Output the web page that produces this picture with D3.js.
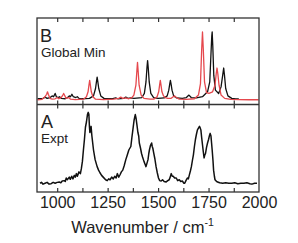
<!DOCTYPE html>
<html>
<head>
<meta charset="utf-8">
<script src="https://cdn.jsdelivr.net/npm/d3@7"></script>
<style>
  html, body { margin: 0; padding: 0; background: #fff; }
  text { font-family: "Liberation Sans", Arial, sans-serif; fill: #222; }
</style>
</head>
<body>
<div id="chart"></div>
<script>
// x tick labels / tick positions
const tickLabels = [1000, 1250, 1500, 1750, 2000];
const tickMarks = [1000, 1125, 1250, 1375, 1500, 1625, 1750, 1875];

// panel B, calculated spectrum (global minimum), red series [wavenumber, intensity]
const calcRed = [
  [903, 0.3], [925, 0.8], [940, 4], [948, 7], [952, 10], [956, 7], [964, 2], [975, 1], [990, 1.5],
  [1000, 3], [1008, 1.5], [1020, 3], [1028, 6], [1032, 8], [1036, 6], [1044, 2], [1058, 3], [1066, 1],
  [1090, 0.5], [1130, 1], [1145, 4], [1153, 10], [1158, 19], [1161, 24], [1164, 19], [1169, 10], [1177, 4],
  [1190, 1], [1230, 0.4], [1280, 1], [1305, 2], [1315, 3.5], [1325, 2], [1340, 2.5], [1355, 1.5],
  [1370, 3], [1380, 6], [1390, 18], [1395, 36], [1398, 46], [1401, 36], [1406, 18], [1416, 6], [1430, 2],
  [1460, 1], [1480, 1.2], [1495, 4], [1503, 10], [1508, 19], [1511, 24], [1514, 19], [1519, 10],
  [1527, 5], [1535, 3], [1548, 2], [1565, 2], [1575, 4], [1582, 5], [1590, 3], [1605, 1], [1640, 0.8],
  [1680, 1.5], [1700, 6], [1710, 20], [1716, 62], [1720, 83], [1724, 62], [1730, 22], [1740, 9],
  [1752, 8], [1770, 10], [1782, 18], [1788, 32], [1792, 39], [1796, 32], [1802, 18], [1812, 6],
  [1830, 2], [1860, 0.8], [1900, 0.4], [1950, 0.3], [1998, 0.3]
];

// panel B, calculated spectrum, black series [wavenumber, intensity]
const calcBlack = [
  [903, 1.5], [930, 2], [940, 3.5], [950, 2], [965, 3], [975, 5], [982, 4], [990, 8], [996, 4],
  [1005, 3], [1012, 4], [1020, 2], [1040, 1.5], [1052, 3], [1060, 5], [1066, 4], [1073, 7], [1080, 4],
  [1092, 3], [1100, 4], [1108, 2], [1120, 1.5], [1160, 2], [1180, 5], [1190, 14], [1195, 23],
  [1198, 28], [1201, 23], [1206, 14], [1216, 5], [1232, 2], [1270, 1.5], [1290, 2.5], [1300, 1.5],
  [1330, 2], [1340, 3.5], [1350, 2], [1365, 2.5], [1380, 2], [1420, 3], [1432, 8], [1440, 22],
  [1445, 40], [1448, 48], [1451, 40], [1456, 22], [1464, 8], [1478, 3], [1500, 2], [1530, 2.5],
  [1545, 5], [1553, 12], [1558, 20], [1561, 24], [1564, 20], [1569, 12], [1577, 5], [1592, 2.5],
  [1620, 2], [1640, 3], [1653, 6], [1664, 3], [1690, 2.5], [1720, 4], [1745, 10], [1756, 22],
  [1762, 56], [1766, 78], [1768, 83], [1771, 66], [1776, 30], [1784, 12], [1800, 8], [1812, 16],
  [1820, 30], [1825, 39], [1829, 30], [1835, 14], [1846, 5], [1865, 2], [1885, 1.3], [1900, 1.2]
];

// panel A, experimental spectrum [wavenumber, intensity]
const expt = [
  [915, 10], [922, 11], [930, 9], [940, 10], [950, 11], [960, 9], [970, 9.5], [980, 11], [990, 10],
  [1000, 11], [1010, 11.5], [1018, 10.5], [1025, 12.6], [1035, 13], [1040, 12], [1045, 16], [1050, 14],
  [1060, 17], [1065, 14.5], [1072, 18], [1078, 15], [1085, 19], [1090, 17], [1095, 21], [1100, 18],
  [1108, 23], [1115, 21], [1120, 27], [1125, 35], [1130, 48], [1135, 60], [1140, 74], [1145, 80],
  [1150, 88.5], [1154, 91], [1157, 89], [1160, 74], [1162, 68], [1165, 72], [1168, 75], [1172, 64],
  [1180, 48], [1188, 37], [1198, 29], [1205, 25], [1212, 22], [1220, 19], [1228, 17], [1240, 14],
  [1248, 13], [1255, 15], [1262, 14], [1270, 17], [1278, 15], [1285, 18], [1292, 16], [1298, 21],
  [1305, 17], [1312, 20], [1318, 23], [1325, 25], [1332, 30], [1340, 37], [1347, 42], [1355, 48],
  [1360, 50], [1365, 52], [1370, 62], [1375, 71], [1381, 82], [1387, 88.5], [1391, 84], [1395, 77],
  [1400, 68], [1404, 64], [1407, 56], [1413, 50], [1418, 44], [1423, 40], [1430, 35], [1435, 32],
  [1440, 29], [1445, 33], [1450, 37], [1454, 44], [1457, 48], [1462, 53], [1468, 56], [1471, 52],
  [1474, 50], [1478, 45], [1484, 38], [1490, 29], [1496, 22], [1502, 16], [1508, 13], [1515, 12.6],
  [1522, 14], [1530, 12], [1540, 11.5], [1548, 13], [1555, 14], [1560, 17], [1565, 21], [1570, 18],
  [1575, 18], [1582, 16], [1590, 16], [1597, 13], [1605, 14], [1612, 12], [1620, 12.6], [1628, 10],
  [1632, 10], [1638, 13], [1645, 16], [1650, 15], [1655, 19.5], [1660, 24], [1665, 29], [1670, 36],
  [1675, 42.5], [1680, 52], [1685, 60], [1690, 66], [1695, 71], [1700, 73], [1705, 75], [1709, 73],
  [1712, 71], [1716, 62], [1720, 54], [1724, 46], [1728, 39], [1731, 42], [1735, 44], [1740, 51],
  [1745, 56], [1750, 60], [1755, 65], [1758, 67], [1762, 64], [1765, 56], [1768, 48], [1772, 36],
  [1775, 25], [1779, 18], [1782, 14], [1790, 12], [1795, 11.5], [1805, 10.5], [1820, 10], [1835, 10.5],
  [1850, 10], [1865, 10], [1880, 10.5], [1895, 9.5], [1910, 10], [1925, 10], [1940, 10.5], [1955, 9.5],
  [1965, 9], [1978, 10], [1990, 10]
];

class Spectra {
  constructor(option) {
    for (let [key, value] of Object.entries(option)) {
      this[key] = value;
    }
    this.left = 37;
    this.right = 259;
    this.top = 18;
    this.mid = 104.5;
    this.bottom = 192;
    this.creatSvg();
    this.creatScales();
    this.creatLines();
    this.creatFrame();
    this.creatText();
  }
  creatSvg() {
    this.svg = d3.select(this.ele)
      .append('svg')
      .attr('width', this.width)
      .attr('height', this.height);
  }
  creatScales() {
    this.x = d3.scaleLinear().domain([900, 2000]).range([this.left, this.right]);
    // top panel: 0 sits on the panel floor
    this.yB = d3.scaleLinear().domain([0, 100]).range([100, this.top]);
    this.yA = d3.scaleLinear().domain([0, 100]).range([this.bottom, this.mid]);
  }
  creatLines() {
    let _this = this;
    let lineB = d3.line()
      .x(function(d) { return _this.x(d[0]); })
      .y(function(d) { return _this.yB(d[1]); });
    let lineA = d3.line()
      .x(function(d) { return _this.x(d[0]); })
      .y(function(d) { return _this.yA(d[1]); });

    this.svg.append('path')
      .datum(this.calcBlack)
      .attr('d', lineB)
      .attr('fill', 'none')
      .attr('stroke', '#111')
      .attr('stroke-width', 1.3)
      .attr('stroke-linejoin', 'round');
    this.svg.append('path')
      .datum(this.calcRed)
      .attr('d', lineB)
      .attr('fill', 'none')
      .attr('stroke', '#e5484d')
      .attr('stroke-width', 1.3)
      .attr('stroke-linejoin', 'round');
    this.svg.append('path')
      .datum(this.expt)
      .attr('d', lineA)
      .attr('fill', 'none')
      .attr('stroke', '#111')
      .attr('stroke-width', 1.5)
      .attr('stroke-linejoin', 'round');
  }
  creatFrame() {
    let g = this.svg.append('g');
    g.append('rect')
      .attr('x', this.left)
      .attr('y', this.top)
      .attr('width', this.right - this.left)
      .attr('height', this.bottom - this.top)
      .attr('fill', 'none')
      .attr('stroke', '#333')
      .attr('stroke-width', 1.3);
    g.append('line')
      .attr('x1', this.left).attr('x2', this.right)
      .attr('y1', this.mid).attr('y2', this.mid)
      .attr('stroke', '#333')
      .attr('stroke-width', 1.3);

    // inward ticks
    let tickDown = d3.axisBottom(this.x).tickValues(this.tickMarks).tickSize(4).tickFormat('');
    let tickUp = d3.axisTop(this.x).tickValues(this.tickMarks).tickSize(4).tickFormat('');
    [[tickDown, this.top], [tickUp, this.mid], [tickDown, this.mid], [tickUp, this.bottom]].forEach(function(t) {
      let a = g.append('g')
        .attr('transform', `translate(0,${t[1]})`)
        .call(t[0]);
      a.select('.domain').remove();
      a.selectAll('line').attr('stroke', '#333').attr('stroke-width', 1.2);
    });

    // tick labels
    let labels = g.append('g')
      .attr('transform', `translate(0,${this.bottom})`)
      .call(d3.axisBottom(this.x).tickValues(this.tickLabels).tickFormat(d3.format('d')).tickSize(0).tickPadding(5));
    labels.select('.domain').remove();
    labels.selectAll('text')
      .attr('font-size', 16)
      .attr('font-family', '"Liberation Sans", Arial, sans-serif')
      .attr('fill', '#222');
  }
  creatText() {
    this.svg.append('text').attr('x', 40).attr('y', 42).attr('font-size', 18).text('B');
    this.svg.append('text').attr('x', 41).attr('y', 57).attr('font-size', 13.5).text('Global Min');
    this.svg.append('text').attr('x', 41).attr('y', 128).attr('font-size', 18).text('A');
    this.svg.append('text').attr('x', 41).attr('y', 143).attr('font-size', 13.5).text('Expt');

    let t = this.svg.append('text')
      .attr('x', 142.5)
      .attr('y', 233)
      .attr('text-anchor', 'middle')
      .attr('font-size', 16.5);
    t.append('tspan').text('Wavenumber / cm');
    t.append('tspan').attr('font-size', 10.5).attr('dy', -7).text('-1');
  }
}

let chart = new Spectra({
  ele: document.getElementById('chart'),
  width: 298,
  height: 243,
  tickLabels: tickLabels,
  tickMarks: tickMarks,
  calcRed: calcRed,
  calcBlack: calcBlack,
  expt: expt
});
</script>
</body>
</html>
